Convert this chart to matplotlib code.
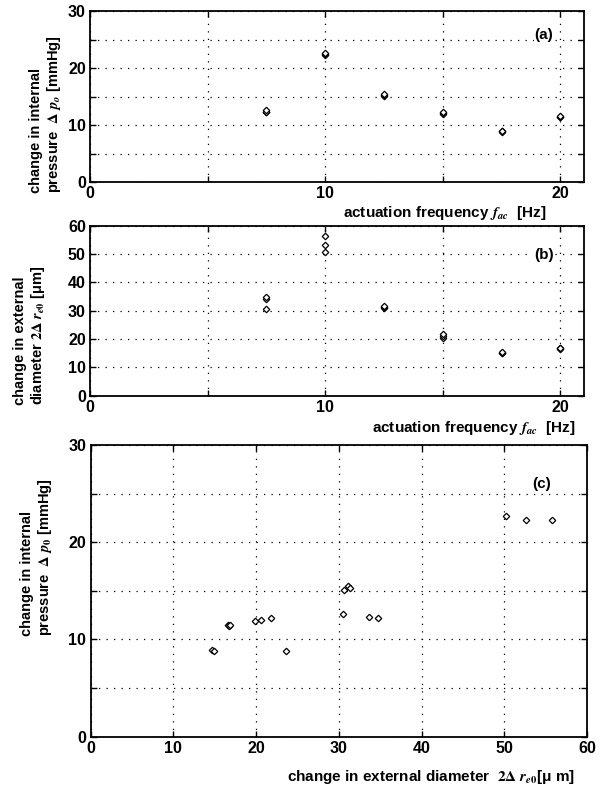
import matplotlib
matplotlib.use('Agg')
import matplotlib.pyplot as plt

plt.rcParams['font.family'] = ['Liberation Sans', 'DejaVu Sans']
plt.rcParams['font.weight'] = 'bold'
plt.rcParams['mathtext.fontset'] = 'stix'

# panel (a): pressure vs actuation frequency
freqA = [7.5, 7.5, 7.5, 10, 10, 10, 12.5, 12.5, 12.5, 15, 15, 15, 17.5, 17.5, 17.5, 20, 20, 20]
pressA = [12.25, 12.35, 12.55, 22.3, 22.4, 22.6, 15.1, 15.3, 15.45, 12.0, 12.05, 12.2,
          8.85, 8.9, 8.95, 11.4, 11.45, 11.5]

# panel (b): diameter vs actuation frequency
freqB = [7.5, 7.5, 7.5, 10, 10, 10, 12.5, 12.5, 12.5, 15, 15, 15, 17.5, 17.5, 17.5, 20, 20, 20]
diamB = [30.7, 34.0, 34.9, 50.6, 53.2, 56.4, 30.9, 31.2, 31.5, 20.3, 20.9, 21.8,
         14.9, 15.1, 15.3, 16.6, 16.8, 17.0]

# panel (c): pressure vs diameter
diamC = [14.7, 14.9, 16.6, 16.7, 16.8, 19.9, 20.6, 21.8, 23.6, 30.5, 30.6, 31.1, 31.4,
         33.6, 34.7, 50.2, 52.6, 55.8]
pressC = [8.95, 8.85, 11.45, 11.4, 11.5, 11.9, 12.0, 12.2, 8.85, 12.6, 15.1, 15.5, 15.3,
          12.35, 12.25, 22.7, 22.3, 22.3]

freqTicks = [0, 5, 10, 15, 20]
freqTickLabels = ['0', '', '10', '', '20']

W, H = 603, 787
fig = plt.figure(figsize=(W / 100, H / 100), dpi=100)
axA = fig.add_axes([90 / W, 1 - 182 / H, 494 / W, 171 / H])
axB = fig.add_axes([90 / W, 1 - 395.7 / H, 494 / W, 170 / H])
axC = fig.add_axes([90.5 / W, 1 - 736.7 / H, 496.5 / W, 291.7 / H])


def StyleAxes(ax):
    ax.grid(True, color='black', linestyle=(0, (1, 5)), linewidth=0.9)
    ax.set_axisbelow(True)
    ax.tick_params(direction='in', length=4, width=1, top=True, right=True,
                   labelsize=11.5, pad=3)
    for lbl in ax.get_xticklabels() + ax.get_yticklabels():
        lbl.set_fontweight('bold')
    for sp in ax.spines.values():
        sp.set_linewidth(1.3)


def Diamonds(ax, x, y):
    ax.plot(x, y, linestyle='none', marker='D', markersize=3.3, markerfacecolor='white',
            markeredgecolor='black', markeredgewidth=0.9)


def SideLabel(xCenter, yStart, text):
    # rotated two-line label, both lines start at the same height as in the original
    fig.text(xCenter / W, 1 - yStart / H, text, rotation=90, ha='center', va='bottom',
             multialignment='left', fontsize=10.5, fontweight='bold', linespacing=1.15)


Diamonds(axA, freqA, pressA)
axA.set_xlim(0, 21)
axA.set_ylim(0, 30)
axA.set_xticks(freqTicks)
axA.set_xticklabels(freqTickLabels)
axA.set_yticks([0, 5, 10, 15, 20, 25, 30])
axA.set_yticklabels(['0', '', '10', '', '20', '', '30'])
StyleAxes(axA)
SideLabel(46, 193, 'change in internal\npressure  $\\Delta\\ p_o$ [mmHg]')
axA.text(19.3, 25.8, '(a)', fontsize=11, fontweight='bold', ha='center', va='center',
         bbox=dict(facecolor='white', edgecolor='none', pad=0.5))
fig.text(546 / W, 1 - 213 / H, 'actuation frequency $f_{ac}$  [Hz]', fontsize=11,
         fontweight='bold', ha='right', va='center')

Diamonds(axB, freqB, diamB)
axB.set_xlim(0, 21)
axB.set_ylim(0, 60)
axB.set_xticks(freqTicks)
axB.set_xticklabels(freqTickLabels)
axB.set_yticks([0, 10, 20, 30, 40, 50, 60])
StyleAxes(axB)
SideLabel(30, 405, 'change in external\ndiameter $2\\Delta\\ r_{e0}$ [\u03bcm]')
axB.text(19.3, 49.6, '(b)', fontsize=11, fontweight='bold', ha='center', va='center',
         bbox=dict(facecolor='white', edgecolor='none', pad=0.5))
fig.text(575 / W, 1 - 428 / H, 'actuation frequency $f_{ac}$  [Hz]', fontsize=11,
         fontweight='bold', ha='right', va='center')

Diamonds(axC, diamC, pressC)
axC.set_xlim(0, 60)
axC.set_ylim(0, 30)
axC.set_xticks([0, 10, 20, 30, 40, 50, 60])
axC.set_yticks([0, 5, 10, 15, 20, 25, 30])
axC.set_yticklabels(['0', '', '10', '', '20', '', '30'])
StyleAxes(axC)
SideLabel(37, 636, 'change in internal\npressure  $\\Delta\\ p_0$ [mmHg]')
axC.text(54.5, 26.0, '(c)', fontsize=11, fontweight='bold', ha='center', va='center',
         bbox=dict(facecolor='white', edgecolor='none', pad=0.5))
fig.text(575 / W, 1 - 777 / H, 'change in external diameter  $2\\Delta\\ r_{e0}$[\u03bc m]',
         fontsize=11, fontweight='bold', ha='right', va='center')

fig.savefig('out.png', dpi=100)
